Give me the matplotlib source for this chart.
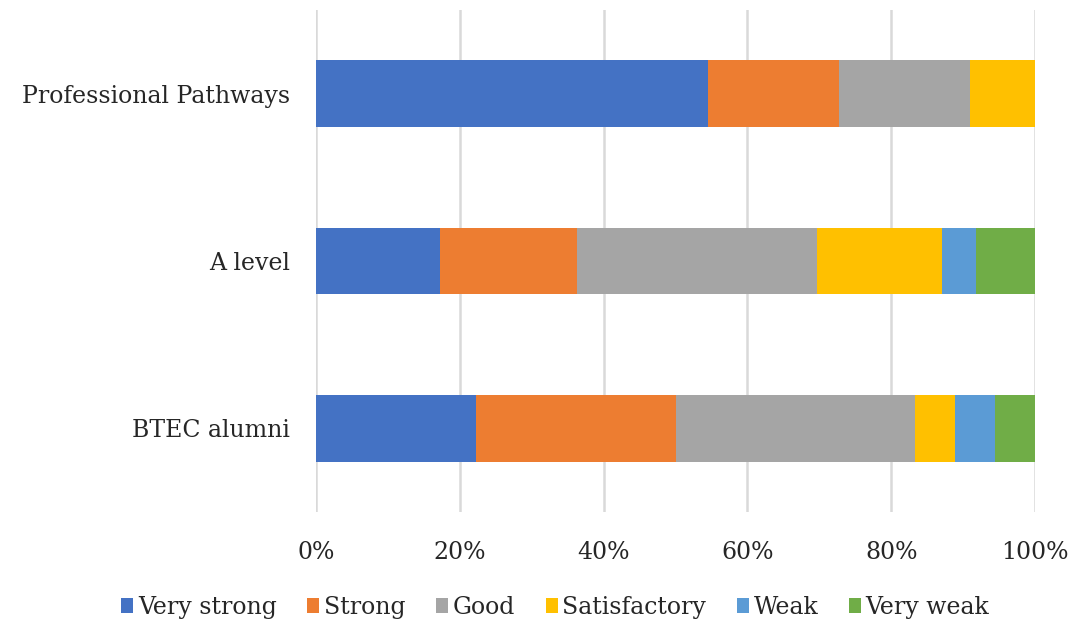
import numpy as np
import matplotlib.pyplot as plt

# Survey groups, bottom to top as drawn
groups = ['BTEC alumni', 'A level', 'Professional Pathways']

# Share of responses (%) per rating
ratings = ['Very strong', 'Strong', 'Good', 'Satisfactory', 'Weak', 'Very weak']
very_strong = [22.2, 17.2, 54.5]
strong = [27.8, 19.1, 18.2]
good = [33.3, 33.4, 18.2]
satisfactory = [5.6, 17.4, 9.1]
weak = [5.6, 4.7, 0.0]
very_weak = [5.5, 8.2, 0.0]

colors = ['#4472C4', '#ED7D31', '#A5A5A5', '#FFC000', '#5B9BD5', '#70AD47']

plt.rcParams['font.family'] = ['DejaVu Serif']

fig = plt.figure(figsize=(10.72, 6.21), dpi=100)
ax = fig.add_axes([0.2948, 0.1755, 0.6707, 0.8085])

series = [very_strong, strong, good, satisfactory, weak, very_weak]
y = np.arange(len(groups))
left = np.zeros(len(groups))
for name, vals, col in zip(ratings, series, colors):
    vals = np.array(vals)
    ax.barh(y, vals, left=left, height=0.4, color=col, label=name, zorder=3)
    left += vals

ax.set_xlim(0, 100)
ax.set_ylim(-0.5, 2.5)
ax.set_xticks(np.arange(0, 101, 20))
ax.set_xticklabels([f'{v}%' for v in range(0, 101, 20)])
ax.set_yticks(y)
ax.set_yticklabels(groups)
ax.tick_params(axis='both', length=0, labelsize=17, colors='#262626')
ax.tick_params(axis='x', pad=21)
ax.tick_params(axis='y', pad=19)
ax.grid(axis='x', color='#d9d9d9', linewidth=1.8, zorder=0)
for s in ax.spines.values():
    s.set_visible(False)

fig.legend(loc='center', bbox_to_anchor=(0.518, 0.022), ncol=6, frameon=False,
           fontsize=17, handlelength=0.5, handleheight=0.55, handletextpad=0.2,
           columnspacing=1.3, labelcolor='#262626')

fig.savefig('out.png', dpi=100)
